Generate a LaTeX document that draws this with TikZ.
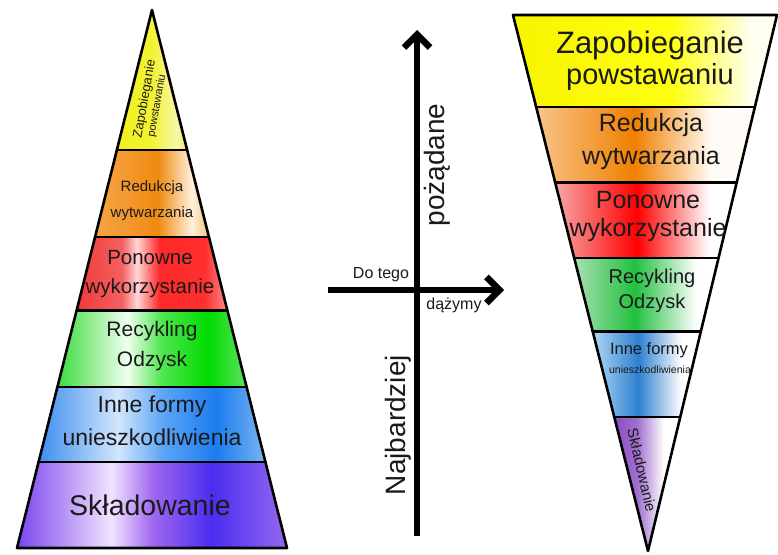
\documentclass[tikz,border=0pt]{standalone}
\usepackage{fontspec}
\setmainfont{Liberation Sans}
\usetikzlibrary{calc,arrows.meta}
% left pyramid colours
\definecolor{lyA}{HTML}{F0F020}\definecolor{lyB}{HTML}{F2F236}\definecolor{lyC}{HTML}{F7F7A8}\definecolor{lyD}{HTML}{F0F060}
\definecolor{loA}{HTML}{F4A445}\definecolor{loB}{HTML}{F39A30}\definecolor{loC}{HTML}{F08A10}\definecolor{loD}{HTML}{FFF0DC}\definecolor{loE}{HTML}{F6C27A}
\definecolor{lrA}{HTML}{EE3A3A}\definecolor{lrB}{HTML}{F56060}\definecolor{lrC}{HTML}{FFD6D6}\definecolor{lrD}{HTML}{FF2828}\definecolor{lrE}{HTML}{FF3030}\definecolor{lrF}{HTML}{FF8A8A}
\definecolor{lgA}{HTML}{3CDC3C}\definecolor{lgB}{HTML}{F0FFF0}\definecolor{lgC}{HTML}{50E650}\definecolor{lgD}{HTML}{00DC00}\definecolor{lgE}{HTML}{60E060}
\definecolor{lbA}{HTML}{3C8EEE}\definecolor{lbB}{HTML}{D2E6FC}\definecolor{lbC}{HTML}{5CA4F6}\definecolor{lbD}{HTML}{1C7CF0}\definecolor{lbE}{HTML}{78B4F2}
\definecolor{lpA}{HTML}{7A44EE}\definecolor{lpB}{HTML}{F2E4FF}\definecolor{lpC}{HTML}{A068F0}\definecolor{lpD}{HTML}{4C2CF0}\definecolor{lpE}{HTML}{9468F0}
% right pyramid colours
\definecolor{ryA}{HTML}{F8F400}\definecolor{ryB}{HTML}{FFFF10}\definecolor{ryC}{HTML}{FFFFF0}
\definecolor{roA}{HTML}{F8C48A}\definecolor{roB}{HTML}{F08000}\definecolor{roC}{HTML}{FFFBF5}
\definecolor{rrA}{HTML}{F6A8A8}\definecolor{rrB}{HTML}{FF0000}
\definecolor{rgA}{HTML}{A8E0B0}\definecolor{rgB}{HTML}{22C040}
\definecolor{rbA}{HTML}{B0D8F4}\definecolor{rbB}{HTML}{2E80D0}
\definecolor{rpA}{HTML}{8C4CC0}\definecolor{rpB}{HTML}{A070D0}
\definecolor{txt}{HTML}{1A1A1A}
\pgfdeclarehorizontalshading{LY}{100bp}{color(0bp)=(lyA); color(25bp)=(lyA); color(50bp)=(lyB); color(67.5bp)=(lyC); color(75bp)=(lyD); color(100bp)=(lyD)}
\pgfdeclarehorizontalshading{LO}{100bp}{color(0bp)=(loA); color(25bp)=(loA); color(37.5bp)=(loB); color(52.5bp)=(loC); color(67.5bp)=(loD); color(75bp)=(loE); color(100bp)=(loE)}
\pgfdeclarehorizontalshading{LR}{100bp}{color(0bp)=(lrA); color(25bp)=(lrA); color(40bp)=(lrB); color(45bp)=(lrC); color(52.5bp)=(lrD); color(67.5bp)=(lrE); color(75bp)=(lrF); color(100bp)=(lrF)}
\pgfdeclarehorizontalshading{LG}{100bp}{color(0bp)=(lgA); color(25bp)=(lgA); color(43.5bp)=(lgB); color(52.5bp)=(lgC); color(65bp)=(lgD); color(75bp)=(lgE); color(100bp)=(lgE)}
\pgfdeclarehorizontalshading{LB}{100bp}{color(0bp)=(lbA); color(25bp)=(lbA); color(42.5bp)=(lbB); color(52.5bp)=(lbC); color(64bp)=(lbD); color(75bp)=(lbE); color(100bp)=(lbE)}
\pgfdeclarehorizontalshading{LP}{100bp}{color(0bp)=(lpA); color(25bp)=(lpA); color(42.5bp)=(lpB); color(50bp)=(lpC); color(61bp)=(lpD); color(75bp)=(lpE); color(100bp)=(lpE)}
\pgfdeclarehorizontalshading{RY}{100bp}{color(0bp)=(ryA); color(25bp)=(ryA); color(55bp)=(ryB); color(70bp)=(ryC); color(100bp)=(ryC)}
\pgfdeclarehorizontalshading{RO}{100bp}{color(0bp)=(roA); color(25bp)=(roA); color(47.5bp)=(roB); color(65bp)=(roC); color(100bp)=(white)}
\pgfdeclarehorizontalshading{RR}{100bp}{color(0bp)=(rrA); color(25bp)=(rrA); color(47.5bp)=(rrB); color(67.5bp)=(white); color(100bp)=(white)}
\pgfdeclarehorizontalshading{RG}{100bp}{color(0bp)=(rgA); color(25bp)=(rgA); color(46bp)=(rgB); color(67.5bp)=(white); color(100bp)=(white)}
\pgfdeclarehorizontalshading{RB}{100bp}{color(0bp)=(rbA); color(25bp)=(rbA); color(46bp)=(rbB); color(66bp)=(white); color(100bp)=(white)}
\pgfdeclarehorizontalshading{RP}{100bp}{color(0bp)=(rpA); color(25bp)=(rpA); color(42.5bp)=(rpB); color(62.5bp)=(white); color(100bp)=(white)}
\tikzset{
  fs/.style={font=\fontsize{#1}{#1}\selectfont, text=txt, inner sep=0pt},
  edge/.style={line width=2.6pt, line join=round, line cap=round},
  axisarrow/.style={line width=6.5pt, -{Straight Barb[length=13pt,width=26pt]}},
}
\begin{document}
\begin{tikzpicture}[x=1pt,y=-1pt]
\useasboundingbox (0,0) rectangle (778,554);
\fill[white] (0,0) rectangle (778,554);
% ---------- left pyramid ----------
\coordinate (LA) at (152,10);
\coordinate (LL) at (17,548);
\coordinate (LRt) at (287,548);
\foreach \a/\b/\s in {0/0.260/LY,0.260/0.422/LO,0.422/0.558/LR,0.558/0.701/LG,0.701/0.840/LB,0.840/1/LP}{
  \shade[shading=\s] ($(LA)!\a!(LL)$) -- ($(LA)!\b!(LL)$) -- ($(LA)!\b!(LRt)$) -- ($(LA)!\a!(LRt)$) -- cycle;
}
\foreach \a in {0.260,0.422,0.558,0.701,0.840}{
  \draw[edge] ($(LA)!\a!(LL)$) -- ($(LA)!\a!(LRt)$);
}
\draw[edge] (LA) -- (LL) -- (LRt) -- cycle;
% ---------- right pyramid ----------
\coordinate (RTL) at (513,15);
\coordinate (RTR) at (777,15);
\coordinate (RA) at (648,551);
\foreach \a/\b/\s in {0/0.172/RY,0.172/0.312/RO,0.312/0.453/RR,0.453/0.591/RG,0.591/0.750/RB,0.750/1/RP}{
  \shade[shading=\s] ($(RTL)!\a!(RA)$) -- ($(RTL)!\b!(RA)$) -- ($(RTR)!\b!(RA)$) -- ($(RTR)!\a!(RA)$) -- cycle;
}
\foreach \a in {0.172,0.312,0.453,0.591,0.750}{
  \draw[edge] ($(RTL)!\a!(RA)$) -- ($(RTR)!\a!(RA)$);
}
\draw[edge] (RTL) -- (RTR) -- (RA) -- cycle;
% ---------- left texts ----------
\node[fs=13, rotate=80] (lz1) at (145,99) {Zapobieganie};
\node[fs=11, rotate=80] (lz2) at (157,106) {powstawaniu};
\node[fs=15] (lr1) at (152,188) {Redukcja};
\node[fs=15] (lr2) at (152,214) {wytwarzania};
\node[fs=20.5] (lp1) at (150,258) {Ponowne};
\node[fs=20.5] (lp2) at (150,288) {wykorzystanie};
\node[fs=21] (lg1) at (152,331) {Recykling};
\node[fs=21] (lg2) at (152,361) {Odzysk};
\node[fs=23] (lb1) at (152,407) {Inne formy};
\node[fs=23] (lb2) at (152,437) {unieszkodliwienia};
\node[fs=28.5] (ls) at (150,505) {Składowanie};
% ---------- right texts ----------
\node[fs=31] (rz1) at (650,45) {Zapobieganie};
\node[fs=29] (rz2) at (650,77) {powstawaniu};
\node[fs=25] (rr1) at (651,125) {Redukcja};
\node[fs=25] (rr2) at (651,158) {wytwarzania};
\node[fs=25] (rp1) at (648,200) {Ponowne};
\node[fs=25] (rp2) at (648,230) {wykorzystanie};
\node[fs=20] (rg1) at (652,278) {Recykling};
\node[fs=20] (rg2) at (652,303) {Odzysk};
\node[fs=16.5] (rb1) at (649,350) {Inne formy};
\node[fs=10.5] (rb2) at (650,370) {unieszkodliwienia};
\node[fs=15, rotate=-77] (rs) at (642,470) {Składowanie};
% ---------- axes ----------
\coordinate (vb) at (417,536);
\coordinate (vt) at (417,30);
\coordinate (hl) at (328,290);
\coordinate (hr) at (504,290);
\draw[axisarrow] (vb) -- (vt);
\draw[axisarrow] (hl) -- (hr);
\node[fs=28, rotate=90] (poz) at (437,165) {pożądane};
\node[fs=28, rotate=90] (naj) at (398,425) {Najbardziej};
\node[fs=16] (dot) at (381,275) {Do tego};
\node[fs=16] (daz) at (454,305) {dążymy};
\end{tikzpicture}
\end{document}
